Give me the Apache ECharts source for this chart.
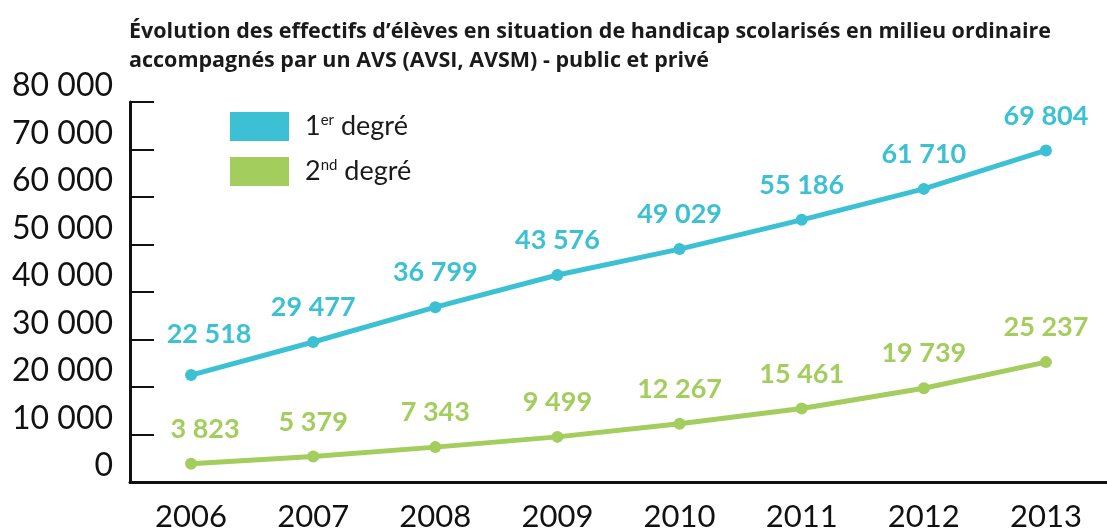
<!DOCTYPE html>
<html>
<head>
<meta charset="utf-8">
<script src="https://cdn.jsdelivr.net/npm/echarts@6/dist/echarts.min.js"></script>
<style>
  html, body { margin: 0; padding: 0; background: #fff; }
  #chart { width: 1107px; height: 530px; }
</style>
</head>
<body>
<div id="chart"></div>
<script>
// données
var years = ['2006', '2007', '2008', '2009', '2010', '2011', '2012', '2013'];
var premierDegre = [22518, 29477, 36799, 43576, 49029, 55186, 61710, 69804];
var secondDegre = [3823, 5379, 7343, 9499, 12267, 15461, 19739, 25237];
var seriesNames = ['1er degré', '2nd degré'];
var colors = ['#3bc1d3', '#a3cd5d'];

function fmt(v) {
  return String(v).replace(/\B(?=(\d{3})+(?!\d))/g, ' ');
}

var chart = echarts.init(document.getElementById('chart'));

function makeSeries(name, data, color, firstOffset) {
  // le premier label est décalé à droite pour ne pas toucher l'axe
  var items = data.map(function (v, i) {
    return i === 0 ? { value: v, label: { offset: firstOffset } } : v;
  });
  return {
    name: name,
    type: 'line',
    data: items,
    symbol: 'circle',
    symbolSize: 12,
    lineStyle: { color: color, width: 5 },
    itemStyle: { color: color },
    label: {
      show: true,
      position: 'top',
      distance: 15,
      color: color,
      fontFamily: 'Lato',
      fontWeight: 'bold',
      fontSize: 27,
      formatter: function (p) { return fmt(p.value); }
    }
  };
}

chart.setOption({
  backgroundColor: '#fff',
  animation: false,
  title: {
    text: 'Évolution des effectifs d’élèves en situation de handicap scolarisés en milieu ordinaire\naccompagnés par un AVS (AVSI, AVSM) - public et privé',
    left: 124,
    top: 12,
    textStyle: {
      fontFamily: 'Open Sans',
      fontWeight: 'bold',
      fontSize: 21.5,
      lineHeight: 29,
      color: '#1a1a1a'
    }
  },
  legend: {
    orient: 'vertical',
    left: 225,
    top: 107,
    itemWidth: 59,
    itemHeight: 29,
    itemGap: 16,
    icon: 'rect',
    data: seriesNames,
    formatter: function (name) {
      return name === '1er degré' ? '1{sup|er} degré' : '2{sup|nd} degré';
    },
    textStyle: {
      fontFamily: 'Lato',
      fontSize: 27,
      color: '#1a1a1a',
      padding: [0, 0, 0, 11],
      rich: {
        sup: { fontFamily: 'Lato', fontSize: 15, color: '#1a1a1a', padding: [0, 0, 13, 0] }
      }
    }
  },
  grid: { left: 130, right: 0, top: 102, bottom: 48, outerBoundsMode: 'none' },
  xAxis: {
    type: 'category',
    data: years,
    boundaryGap: true,
    axisLine: { lineStyle: { color: '#111', width: 3 } },
    axisTick: { inside: true, length: 9, lineStyle: { color: '#111', width: 2 } },
    axisLabel: { fontFamily: 'Lato', fontSize: 31, color: '#111', margin: 19 }
  },
  yAxis: {
    type: 'value',
    min: 0,
    max: 80000,
    interval: 10000,
    splitLine: { show: false },
    axisLine: { show: true, lineStyle: { color: '#111', width: 3 } },
    axisTick: { show: true, inside: true, length: 24, lineStyle: { color: '#111', width: 2 } },
    axisLabel: {
      fontFamily: 'Lato',
      fontSize: 32,
      color: '#111',
      margin: 17,
      verticalAlign: 'bottom',
      lineHeight: 32,
      formatter: function (v) { return fmt(v); }
    }
  },
  series: [
    makeSeries(seriesNames[0], premierDegre, colors[0], [18, -6]),
    makeSeries(seriesNames[1], secondDegre, colors[1], [14, 0])
  ]
});
</script>
</body>
</html>
